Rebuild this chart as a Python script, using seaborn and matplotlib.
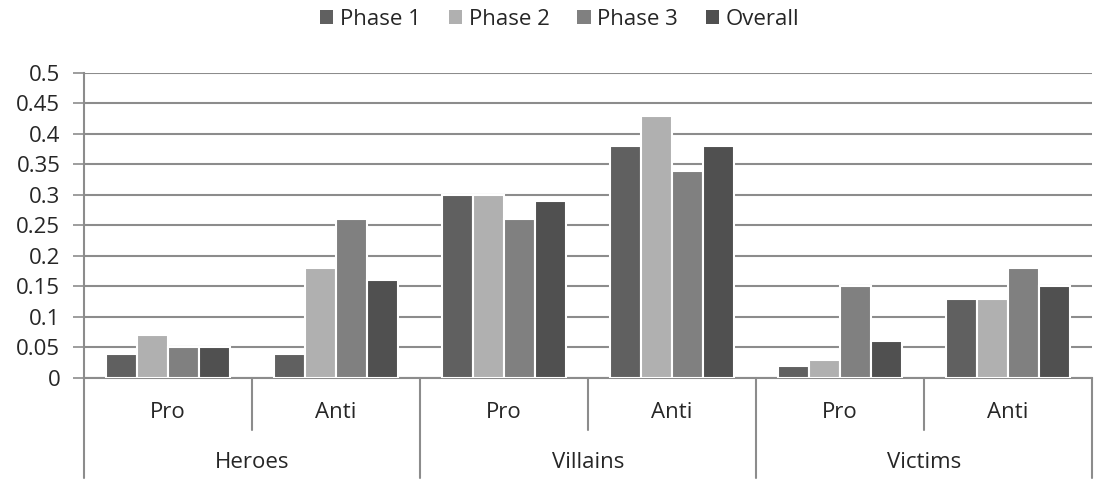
import pandas as pd
import seaborn as sns
import matplotlib.pyplot as plt
import matplotlib.transforms as mtransforms

# Chart data
groups = ["Heroes", "Villains", "Victims"]
stances = ["Pro", "Anti"]
series = ["Phase 1", "Phase 2", "Phase 3", "Overall"]
phase1 = [0.04, 0.04, 0.30, 0.38, 0.02, 0.13]
phase2 = [0.07, 0.18, 0.30, 0.43, 0.03, 0.13]
phase3 = [0.05, 0.26, 0.26, 0.34, 0.15, 0.18]
overall = [0.05, 0.16, 0.29, 0.38, 0.06, 0.15]
colors = ["#606060", "#b0b0b0", "#808080", "#505050"]

# long-format table
cats = [f"{g}|{s}" for g in groups for s in stances]
rows = []
for name, vals in zip(series, [phase1, phase2, phase3, overall]):
    for c, v in zip(cats, vals):
        rows.append({"cat": c, "series": name, "value": v})
df = pd.DataFrame(rows)

sns.set_style("white")
plt.rcParams['font.family'] = ['Open Sans', 'DejaVu Sans']
FS = 16

fig = plt.figure(figsize=(10.96, 4.83), dpi=100)
ax = fig.add_axes([0.0766, 0.2174, 0.9198, 0.6315])

sns.barplot(data=df, x="cat", y="value", hue="series", order=cats,
            hue_order=series, palette=colors, width=0.74,
            edgecolor="white", linewidth=1.5, saturation=1, ax=ax, zorder=3)

ax.set_xlim(-0.5, len(cats) - 0.5)
ax.set_ylim(0, 0.5)
ticks = [i * 0.05 for i in range(11)]
ax.set_yticks(ticks)
ax.set_yticklabels(["0" if t == 0 else f"{t:.2f}".rstrip("0") for t in ticks], fontsize=FS)
ax.yaxis.grid(True, color="#8c8c8c", linewidth=1.5, zorder=0)
ax.set_axisbelow(True)
ax.tick_params(axis="y", length=8, width=1.2, color="#8c8c8c", pad=9, left=True)
ax.set_xticks([])
ax.set_xlabel("")
ax.set_ylabel("")
for side in ["top", "right"]:
    ax.spines[side].set_visible(False)
for side in ["left", "bottom"]:
    ax.spines[side].set_color("#8c8c8c")
    ax.spines[side].set_linewidth(1.5)

# multi-level category axis
trans = mtransforms.blended_transform_factory(ax.transData, ax.transAxes)
inner_low = -52 / 305
outer_low = -100 / 305
for i in range(len(cats) + 1):
    x = i - 0.5
    low = outer_low if i % 2 == 0 else inner_low
    ax.plot([x, x], [0, low], transform=trans, color="#8c8c8c",
            linewidth=1.5, clip_on=False)
for i, c in enumerate(cats):
    ax.text(i, -35 / 305, c.split("|")[1], transform=trans, ha="center",
            va="center", fontsize=FS)
for j, g in enumerate(groups):
    ax.text(2 * j + 0.5, -85 / 305, g, transform=trans, ha="center",
            va="center", fontsize=FS)

leg = ax.legend(loc="center", bbox_to_anchor=(0.472, 1.175), ncol=4,
                frameon=False, fontsize=FS, handlelength=0.6, handleheight=0.6,
                handletextpad=0.3, columnspacing=1.25)
for h in leg.legend_handles:
    h.set_edgecolor("none")

plt.savefig("out.png", dpi=100)
plt.close()
